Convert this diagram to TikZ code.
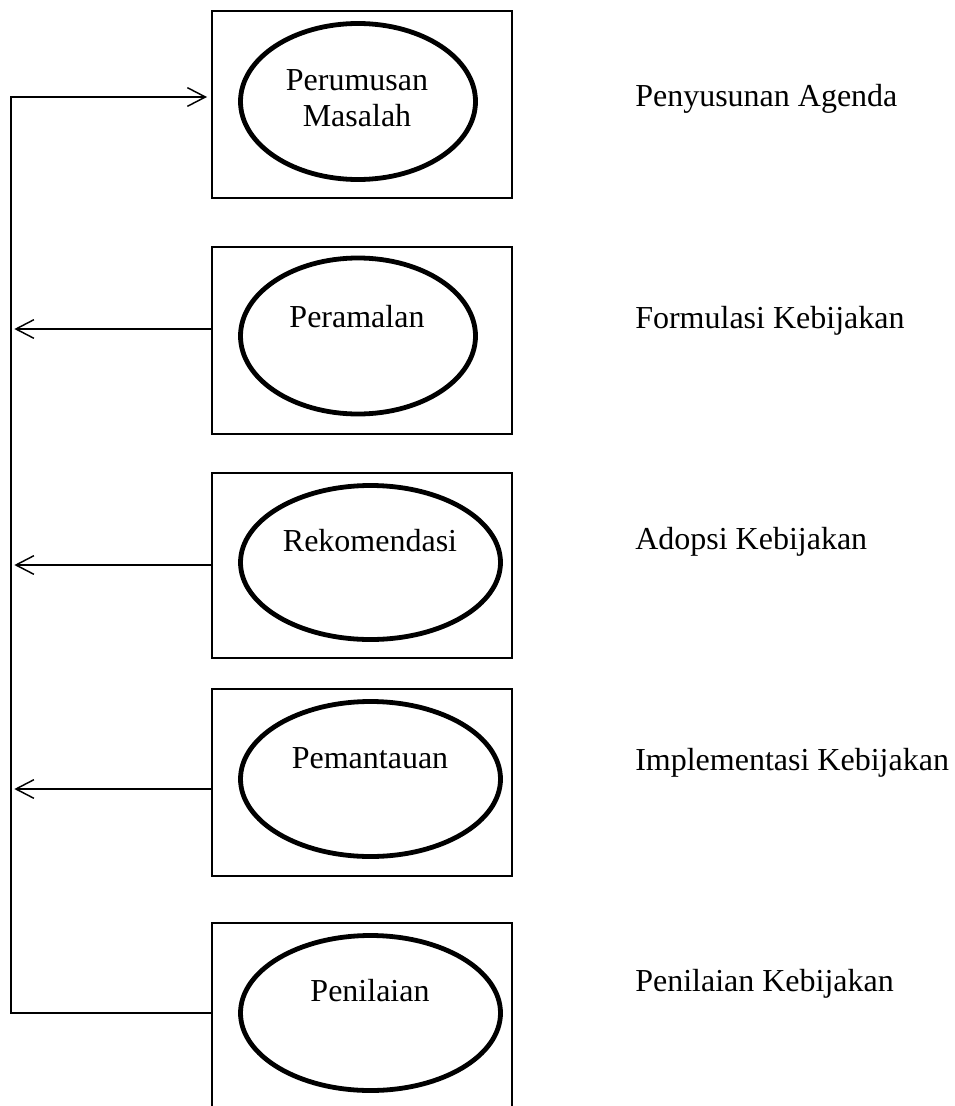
\documentclass[tikz,border=0pt]{standalone}
\usepackage{fontspec}
\setmainfont{Liberation Serif}
\usetikzlibrary{shapes.geometric,arrows.meta}
\begin{document}
\begin{tikzpicture}[x=0.75pt,y=-0.75pt,
  stagebox/.style={draw,line width=1.5pt,rectangle,minimum width=225pt,minimum height=140.25pt,inner sep=0pt},
  oval/.style={draw,line width=3.6pt,ellipse,inner sep=0pt},
  lbl/.style={font=\fontsize{24}{27.75}\selectfont,anchor=base,inner sep=0pt},
  side/.style={font=\fontsize{24}{27.75}\selectfont,anchor=base west,inner sep=0pt},
  conn/.style={line width=1.1pt},
  arr/.style={conn,-{Straight Barb[length=13.5pt,width=14pt,line width=1.1pt]}}]
\clip (0,0) rectangle (955,1106);
\fill[white] (0,0) rectangle (955,1106);
% boxes
\node[stagebox] (b1) at (362,104.5) {};
\node[stagebox] (b2) at (362,340.5) {};
\node[stagebox,minimum height=138.75pt] (b3) at (362,565.5) {};
\node[stagebox] (b4) at (362,782.5) {};
\node[stagebox] (b5) at (362,1016.5) {};
% ellipses
\node[oval,minimum width=176.25pt,minimum height=117pt] (e1) at (358,101.5) {};
\node[oval,minimum width=176.25pt,minimum height=117pt] (e2) at (358,336) {};
\node[oval,minimum width=195pt,minimum height=115.5pt] (e3) at (370.5,562.5) {};
\node[oval,minimum width=195pt,minimum height=116.25pt] (e4) at (370.5,779) {};
\node[oval,minimum width=195pt,minimum height=116.25pt] (e5) at (370.5,1013) {};
% ellipse texts
\node[lbl] (t1a) at (357,90) {Perumusan};
\node[lbl] (t1b) at (357,127) {Masalah};
\node[lbl] (t2) at (357,327) {Peramalan};
\node[lbl] (t3) at (370,551) {Rekomendasi};
\node[lbl] (t4) at (370,768) {Pemantauan};
\node[lbl] (t5) at (370,1001) {Penilaian};
% side labels
\node[side] (s1) at (635,107) {Penyusunan Agenda};
\node[side] (s2) at (635,328) {Formulasi Kebijakan};
\node[side] (s3) at (635,549) {Adopsi Kebijakan};
\node[side] (s4) at (635,770) {Implementasi Kebijakan};
\node[side] (s5) at (635,991) {Penilaian Kebijakan};
% connectors
\coordinate (top) at (11,97);
\coordinate (bot) at (11,1013);
\coordinate (a2) at (11,329);
\coordinate (a3) at (11,565);
\coordinate (a4) at (11,789);
\draw[arr,shorten >=3pt] (b5.west |- bot) -- (bot) -- (top) -- (b1.west |- top);
\draw[arr,shorten >=2.5pt] (b2.west |- a2) -- (a2);
\draw[arr,shorten >=2.5pt] (b3.west |- a3) -- (a3);
\draw[arr,shorten >=2.5pt] (b4.west |- a4) -- (a4);
\end{tikzpicture}
\end{document}
